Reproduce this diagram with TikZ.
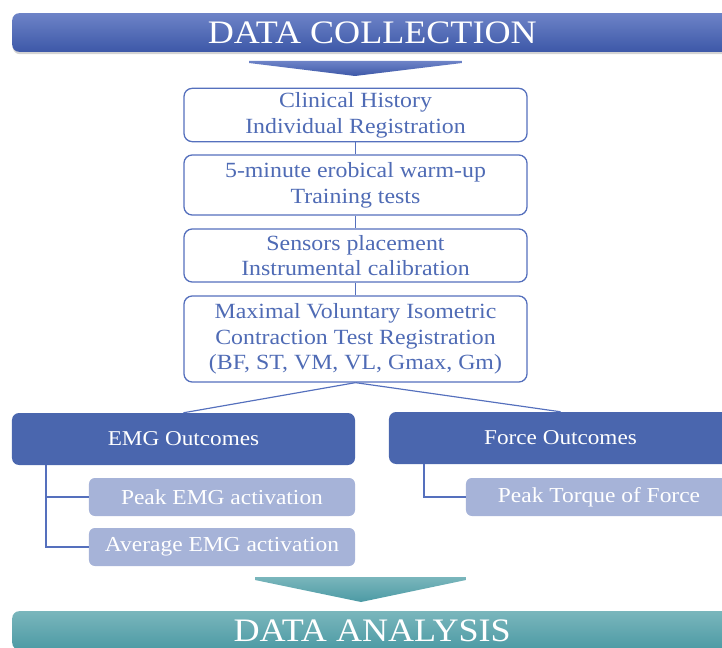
\documentclass[tikz,border=0pt]{standalone}
\usepackage{fontspec}
\setmainfont{Liberation Serif}[FakeStretch=1.1]
\usepackage{xcolor}
\usetikzlibrary{positioning,shadows}

\definecolor{bandtop}{HTML}{6D83C7}
\definecolor{bandbot}{HTML}{3D58A8}
\definecolor{stepline}{HTML}{5570BD}
\definecolor{steptext}{HTML}{4F6BB5}
\definecolor{outfill}{HTML}{4A66AE}
\definecolor{subfill}{HTML}{A6B3D8}
\definecolor{tealtop}{HTML}{7AB6BC}
\definecolor{tealbot}{HTML}{4C9AA4}

\tikzset{
	band/.style={rectangle, rounded corners=6pt, minimum width=21.6cm, minimum height=1.16cm, text=white, font=\fontsize{28}{30}\selectfont},
	stepbox/.style={rectangle, rounded corners=7pt, draw=stepline, line width=1.1pt, fill=white, text=steptext, align=center, minimum width=10.29cm, font=\fontsize{18.5}{22}\selectfont},
	outbox/.style={rectangle, rounded corners=6pt, fill=outfill, text=white, minimum width=10.29cm, minimum height=1.56cm, font=\fontsize{18}{20}\selectfont},
	subbox/.style={rectangle, rounded corners=5pt, fill=subfill, text=white, minimum width=7.98cm, minimum height=1.14cm, font=\fontsize{18.2}{20}\selectfont},
	link/.style={draw=stepline, line width=1pt}
}

\begin{document}
\begin{tikzpicture}[x=0.03cm, y=-0.03cm]
		\useasboundingbox (0,0) rectangle (722,648);
		
		% banners
		\node[band, top color=bandtop, bottom color=bandbot, drop shadow={opacity=0.35, shadow xshift=0.5pt, shadow yshift=-2pt}, anchor=west] at (12,32.5) (collect) {DATA COLLECTION};
		\node[band, top color=tealtop, bottom color=tealbot, anchor=west] at (12,630.5) (analysis) {DATA ANALYSIS};
		
		% flat arrows
		\shade[top color=bandtop, bottom color=bandbot] (249,61) -- (462,61) -- (462,63) -- (355,76) -- (249,63) -- cycle;
		\shade[top color=tealtop, bottom color=tealbot] (255,577) -- (466,577) -- (466,580) -- (361,602) -- (255,580) -- cycle;
		
		% protocol steps
		\node[stepbox, minimum height=1.56cm] at (355.5,115) (hist) {Clinical History\\Individual Registration};
		\node[stepbox, minimum height=1.8cm] at (355.5,185) (warm) {5-minute erobical warm-up\\Training tests};
		\node[stepbox, minimum height=1.59cm] at (355.5,255.5) (sens) {Sensors placement\\Instrumental calibration};
		\node[stepbox, minimum height=2.58cm] at (355.5,339) (mvic) {Maximal Voluntary Isometric\\Contraction Test Registration\\(BF, ST, VM, VL, Gmax, Gm)};
		
		% outcomes
		\node[outbox] at (183.5,439) (emg) {EMG Outcomes};
		\node[outbox] at (560.5,438) (force) {Force Outcomes};
		\node[subbox] at (222,497) (peak) {Peak EMG activation};
		\node[subbox] at (222,547) (avg) {Average EMG activation};
		\node[subbox] at (599,497) (torque) {Peak Torque of Force};
		
		\coordinate (emgtrunk) at (46,465);
		\coordinate (forcetrunk) at (424,464);
		
		%Lines
		\draw[link] (hist) -- (warm);
		\draw[link] (warm) -- (sens);
		\draw[link] (sens) -- (mvic);
		\draw[link] (mvic.south) -- (emg.north);
		\draw[link] (mvic.south) -- (force.north);
		\draw[link] (emgtrunk) |- (peak.west);
		\draw[link] (emgtrunk) |- (avg.west);
		\draw[link] (forcetrunk) |- (torque.west);
		
	\end{tikzpicture}
\end{document}
